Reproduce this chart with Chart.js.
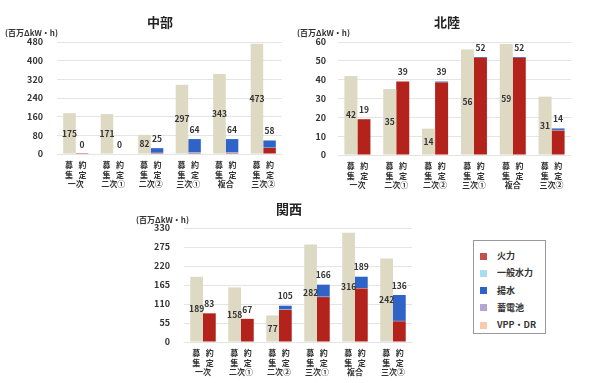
<!DOCTYPE html>
<html>
<head>
<meta charset="utf-8">
<script src="https://cdn.jsdelivr.net/npm/chart.js@4.4.1/dist/chart.umd.min.js"></script>
<style>
body { margin: 0; background: #fff; font-family: "Noto Sans CJK JP", sans-serif; }
#wrap { position: relative; width: 590px; height: 383px; overflow: hidden; }
canvas { position: absolute; }
.title { position: absolute; font-weight: bold; font-size: 13px; color: #222; transform: translate(-50%, -50%); white-space: nowrap; }
.unit { position: absolute; font-weight: bold; font-size: 8px; color: #333; white-space: nowrap; transform: translateY(-50%); }
#legend { position: absolute; left: 473px; top: 240px; width: 73px; height: 94px; border: 1px solid #999; box-sizing: border-box; }
#legend div { position: absolute; left: 6px; font-size: 9px; font-weight: bold; color: #333; white-space: nowrap; line-height: 10px; }
#legend span { display: inline-block; width: 7px; height: 7px; margin-right: 10px; vertical-align: -0.5px; }
</style>
</head>
<body>
<div id="wrap">
  <canvas id="chubu" width="295" height="195" style="left:0;top:0;width:295px;height:195px"></canvas>
  <canvas id="hokuriku" width="295" height="195" style="left:295px;top:0;width:295px;height:195px"></canvas>
  <canvas id="kansai" width="300" height="188" style="left:130px;top:195px;width:300px;height:188px"></canvas>
  <div class="title" style="left:160px;top:21px">中部</div>
  <div class="title" style="left:447px;top:21px">北陸</div>
  <div class="title" style="left:289px;top:208px">関西</div>
  <div class="unit" style="left:5px;top:32px">(百万ΔkW・h)</div>
  <div class="unit" style="left:297px;top:32px">(百万ΔkW・h)</div>
  <div class="unit" style="left:136px;top:219px">(百万ΔkW・h)</div>
  <div id="legend"></div>
</div>
<script>
// 区分
const groups = ['一次', '二次①', '二次②', '三次①', '複合', '三次②'];
const sources = ['火力', '一般水力', '揚水', '蓄電池', 'VPP・DR'];
const sourceColors = ['#b3221b', '#a6d8ee', '#2f63c8', '#b2a3cf', '#f6c9a2'];
const legendColors = ['#c0504d', '#a9dcef', '#2e62c6', '#b3a6d3', '#f8cbad'];
const recruitColor = '#ddd9c3';

// 中部 (募集 / 約定 の内訳)
const chubuRecruit = [175, 171, 82, 297, 343, 473];
const chubuThermal = [0.4, 0, 4, 4, 4, 26];
const chubuHydro = [0, 0, 1, 2, 2, 1];
const chubuPumped = [0, 0, 20, 58, 58, 31];
const chubuBattery = [0, 0, 0, 0, 0, 0];
const chubuVpp = [0, 0, 0, 0, 0, 0];
const chubuTicks = [0, 80, 160, 240, 320, 400, 480];

// 北陸
const hokurikuRecruit = [42, 35, 14, 56, 59, 31];
const hokurikuThermal = [19, 39, 38.5, 51.6, 51.6, 13];
const hokurikuHydro = [0, 0, 0, 0, 0, 0.3];
const hokurikuPumped = [0, 0, 0.5, 0.4, 0.4, 0.8];
const hokurikuBattery = [0, 0, 0, 0, 0, 0];
const hokurikuVpp = [0, 0, 0, 0, 0, 0];
const hokurikuTicks = [0, 10, 20, 30, 40, 50, 60];

// 関西
const kansaiRecruit = [189, 158, 77, 282, 316, 242];
const kansaiThermal = [83, 67, 93, 130, 155, 60];
const kansaiHydro = [0, 0, 1, 1, 1, 1];
const kansaiPumped = [0, 0, 11, 35, 33, 75];
const kansaiBattery = [0, 0, 0, 0, 0, 0];
const kansaiVpp = [0, 0, 0, 0, 0, 0];
const kansaiTicks = [0, 55, 110, 165, 220, 275, 330];

const textColor = '#333';
const fontFamily = '"Noto Sans CJK JP", sans-serif';

// 値ラベル: 募集は棒の中央、約定は積み上げの上
const valueLabels = {
    id: 'valueLabels',
    afterDatasetsDraw(chart) {
        const c = chart.ctx;
        const y = chart.scales.y;
        const n = chart.data.datasets.length;
        c.save();
        c.font = 'bold 8.5px ' + fontFamily;
        c.fillStyle = textColor;
        c.textAlign = 'center';
        c.textBaseline = 'middle';
        chart.getDatasetMeta(0).data.forEach((bar, i) => {
            const v = chart.data.datasets[0].data[i];
            c.fillText(String(v), bar.x, (bar.y + bar.base) / 2);
        });
        chart.getDatasetMeta(1).data.forEach((bar, i) => {
            let total = 0;
            for (let d = 1; d < n; d++) total += chart.data.datasets[d].data[i];
            c.fillText(String(Math.round(total)), bar.x, y.getPixelForValue(total) - 9.5);
        });
        c.restore();
    }
};

function makeChart(id, recruit, parts, ticks, box) {
    const canvas = document.getElementById(id);
    const W = canvas.width, H = canvas.height;
    const datasets = [{
        label: '募集', data: recruit, backgroundColor: recruitColor, stack: 'recruit',
        categoryPercentage: 0.67, barPercentage: 1.0
    }];
    parts.forEach((p, k) => datasets.push({
        label: sources[k], data: p, backgroundColor: sourceColors[k], stack: 'contract',
        categoryPercentage: 0.67, barPercentage: 1.0
    }));
    return new Chart(canvas, {
        type: 'bar',
        data: { labels: groups.map(g => ['募   約', '集   定', g]), datasets: datasets },
        plugins: [valueLabels],
        options: {
            responsive: false,
            animation: false,
            layout: { padding: { left: 0, right: W - box.right, top: box.top, bottom: 0 } },
            plugins: { legend: { display: false }, tooltip: { enabled: false } },
            scales: {
                x: {
                    stacked: true,
                    grid: { display: false, drawTicks: false },
                    border: { display: false },
                    ticks: {
                        color: textColor, padding: 6.5, maxRotation: 0, autoSkip: false,
                        font: { family: fontFamily, size: 8, weight: 'bold', lineHeight: '9.5px' }
                    },
                    afterFit: s => { s.height = H - box.bottom; }
                },
                y: {
                    stacked: true,
                    min: ticks[0],
                    max: ticks[ticks.length - 1],
                    afterBuildTicks: s => { s.ticks = ticks.map(v => ({ value: v })); },
                    grid: { color: '#e4e4e4', drawTicks: false },
                    border: { display: false },
                    ticks: {
                        color: textColor, padding: box.tickPad,
                        font: { family: fontFamily, size: 9, weight: 'bold' }
                    },
                    afterFit: s => { s.width = box.left; }
                }
            }
        }
    });
}

makeChart('chubu', chubuRecruit,
    [chubuThermal, chubuHydro, chubuPumped, chubuBattery, chubuVpp], chubuTicks,
    { left: 57, right: 282, top: 42, bottom: 154, tickPad: 14 });
makeChart('hokuriku', hokurikuRecruit,
    [hokurikuThermal, hokurikuHydro, hokurikuPumped, hokurikuBattery, hokurikuVpp], hokurikuTicks,
    { left: 43, right: 276, top: 42, bottom: 155, tickPad: 12 });
makeChart('kansai', kansaiRecruit,
    [kansaiThermal, kansaiHydro, kansaiPumped, kansaiBattery, kansaiVpp], kansaiTicks,
    { left: 54, right: 282, top: 33, bottom: 147, tickPad: 14 });

// 凡例
const legend = document.getElementById('legend');
sources.forEach((name, k) => {
    const row = document.createElement('div');
    row.style.top = (10 + k * 17.3) + 'px';
    row.innerHTML = '<span style="background:' + legendColors[k] + '"></span>' + name;
    legend.appendChild(row);
});
</script>
</body>
</html>
